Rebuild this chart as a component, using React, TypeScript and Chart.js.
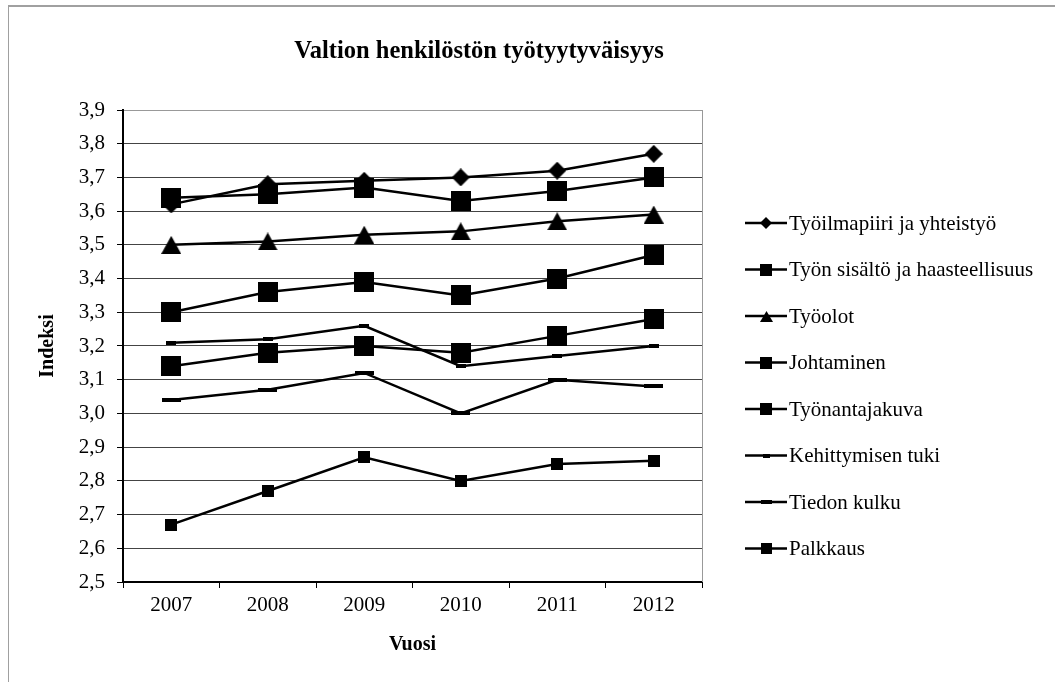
import React, { useEffect, useRef } from 'react';
import { Chart, registerables } from 'chart.js';

Chart.register(...registerables);

// ---------- data ----------
const chartTitle = 'Valtion henkilöstön työtyytyväisyys';
const xTitle = 'Vuosi';
const yTitle = 'Indeksi';
const years = ['2007', '2008', '2009', '2010', '2011', '2012'];
const seriesNames = [
  'Työilmapiiri ja yhteistyö',
  'Työn sisältö ja haasteellisuus',
  'Työolot',
  'Johtaminen',
  'Työnantajakuva',
  'Kehittymisen tuki',
  'Tiedon kulku',
  'Palkkaus',
];
const tyoilmapiiri = [3.62, 3.68, 3.69, 3.7, 3.72, 3.77];
const tyonSisalto = [3.64, 3.65, 3.67, 3.63, 3.66, 3.7];
const tyoolot = [3.5, 3.51, 3.53, 3.54, 3.57, 3.59];
const johtaminen = [3.3, 3.36, 3.39, 3.35, 3.4, 3.47];
const tyonantajakuva = [3.14, 3.18, 3.2, 3.18, 3.23, 3.28];
const kehittymisenTuki = [3.21, 3.22, 3.26, 3.14, 3.17, 3.2];
const tiedonKulku = [3.04, 3.07, 3.12, 3.0, 3.1, 3.08];
const palkkaus = [2.67, 2.77, 2.87, 2.8, 2.85, 2.86];
const seriesValues = [
  tyoilmapiiri,
  tyonSisalto,
  tyoolot,
  johtaminen,
  tyonantajakuva,
  kehittymisenTuki,
  tiedonKulku,
  palkkaus,
];
const yMin = 2.5;
const yMax = 3.9;
const yStep = 0.1;

// ---------- styles ----------
const FONT = '"Liberation Serif", "Times New Roman", serif';
const markerKinds = ['diamond', 'square', 'triangle', 'square', 'square', 'dash', 'dash', 'square'];
const plotMarkerSizes: [number, number][] = [
  [18, 18], [20, 20], [20, 18], [20, 20], [20, 20], [10, 4], [19, 4], [12, 12],
];
const legendMarkerSizes: [number, number][] = [
  [12, 12], [12, 12], [13, 11], [12, 12], [12, 12], [7, 4], [11, 4], [11, 11],
];

function makeMarker(kind: string, w: number, h: number): HTMLCanvasElement {
  const c = document.createElement('canvas');
  c.width = w;
  c.height = h;
  const ctx = c.getContext('2d')!;
  ctx.fillStyle = '#000';
  ctx.beginPath();
  if (kind === 'diamond') {
    ctx.moveTo(w / 2, 0);
    ctx.lineTo(w, h / 2);
    ctx.lineTo(w / 2, h);
    ctx.lineTo(0, h / 2);
  } else if (kind === 'triangle') {
    ctx.moveTo(w / 2, 0);
    ctx.lineTo(w, h);
    ctx.lineTo(0, h);
  } else {
    ctx.rect(0, 0, w, h);
  }
  ctx.closePath();
  ctx.fill();
  return c;
}

export default function App() {
  const canvasRef = useRef<HTMLCanvasElement | null>(null);

  useEffect(() => {
    const canvas = canvasRef.current;
    if (!canvas) return;

    const plotMarkers = markerKinds.map((k, i) => makeMarker(k, plotMarkerSizes[i][0], plotMarkerSizes[i][1]));
    const legendMarkers = markerKinds.map((k, i) => makeMarker(k, legendMarkerSizes[i][0], legendMarkerSizes[i][1]));

    const decorPlugin = {
      id: 'decor',
      beforeDatasetsDraw(chart: any) {
        const { ctx, chartArea } = chart;
        ctx.save();
        ctx.strokeStyle = '#999';
        ctx.lineWidth = 1;
        ctx.beginPath();
        const x = Math.round(chartArea.right) + 0.5;
        ctx.moveTo(x, chartArea.top);
        ctx.lineTo(x, chartArea.bottom);
        ctx.stroke();
        ctx.restore();
      },
      afterDraw(chart: any) {
        const { ctx } = chart;
        ctx.save();
        // title
        ctx.fillStyle = '#000';
        ctx.font = `bold 24.5px ${FONT}`;
        ctx.textAlign = 'center';
        ctx.textBaseline = 'alphabetic';
        ctx.fillText(chartTitle, 471, 52);
        // legend
        const lineX0 = 737;
        const lineX1 = 779;
        const markerX = 758;
        const textX = 781;
        const y0 = 217;
        const dy = 46.5;
        ctx.font = `21px ${FONT}`;
        ctx.textAlign = 'left';
        ctx.textBaseline = 'middle';
        seriesNames.forEach((name, i) => {
          const y = y0 + i * dy;
          ctx.strokeStyle = '#000';
          ctx.lineWidth = 2.5;
          ctx.beginPath();
          ctx.moveTo(lineX0, y);
          ctx.lineTo(lineX1, y);
          ctx.stroke();
          const m = legendMarkers[i];
          ctx.drawImage(m, Math.round(markerX - m.width / 2), Math.round(y - m.height / 2));
          ctx.fillText(name, textX, y + 1);
        });
        ctx.restore();
      },
    };

    const chart = new Chart(canvas, {
      type: 'line',
      data: {
        labels: years,
        datasets: seriesNames.map((name, i) => ({
          label: name,
          data: seriesValues[i],
          borderColor: '#000',
          backgroundColor: '#000',
          borderWidth: 2.5,
          tension: 0,
          fill: false,
          pointStyle: plotMarkers[i],
          pointRadius: 6,
          pointHoverRadius: 6,
          order: seriesNames.length - i,
        })),
      },
      options: {
        responsive: true,
        maintainAspectRatio: false,
        animation: false,
        devicePixelRatio: 1,
        events: [],
        layout: { padding: { top: 104, left: 24, right: 353, bottom: 21 } },
        plugins: {
          legend: { display: false },
          title: { display: false },
          tooltip: { enabled: false },
        },
        scales: {
          x: {
            type: 'category',
            offset: true,
            grid: {
              display: true,
              drawOnChartArea: false,
              drawTicks: true,
              tickLength: 6,
              tickColor: '#000',
              tickWidth: 1,
              offset: true,
            },
            border: { display: true, color: '#000', width: 2 },
            ticks: {
              color: '#000',
              font: { family: FONT, size: 21 },
              padding: 5,
              maxRotation: 0,
              autoSkip: false,
            },
            title: {
              display: true,
              text: xTitle,
              color: '#000',
              font: { family: FONT, size: 20, weight: 'bold' },
              padding: { top: 4, bottom: 4 },
            },
            afterFit: (s: any) => {
              s.height = 79;
            },
          },
          y: {
            min: yMin,
            max: yMax,
            grid: {
              color: (c: any) => (c.tick && Math.abs(c.tick.value - yMax) < 1e-6 ? '#999' : '#444'),
              lineWidth: 1,
              drawTicks: true,
              tickLength: 6,
              tickColor: '#000',
              tickWidth: 1,
            },
            border: { display: true, color: '#000', width: 2 },
            ticks: {
              stepSize: yStep,
              color: '#000',
              font: { family: FONT, size: 21 },
              padding: 12,
              callback: (v: any) => Number(v).toFixed(1).replace('.', ','),
            },
            title: {
              display: true,
              text: yTitle,
              color: '#000',
              font: { family: FONT, size: 20, weight: 'bold' },
              padding: { top: 4, bottom: 4 },
            },
            afterFit: (s: any) => {
              s.width = 91;
            },
          },
        },
      },
      plugins: [decorPlugin],
    });

    return () => {
      chart.destroy();
    };
  }, []);

  return (
    <div style={{ position: 'fixed', left: 0, top: 0, width: 1055, height: 682, background: '#fff' }}>
      <div style={{ position: 'absolute', left: 8, top: 6, width: 1047, height: 676 }}>
        <canvas ref={canvasRef} />
      </div>
      <div style={{ position: 'absolute', left: 8, top: 5, width: 1047, height: 2, background: '#a0a0a0' }} />
      <div style={{ position: 'absolute', left: 8, top: 5, width: 1, height: 677, background: '#a0a0a0' }} />
    </div>
  );
}
